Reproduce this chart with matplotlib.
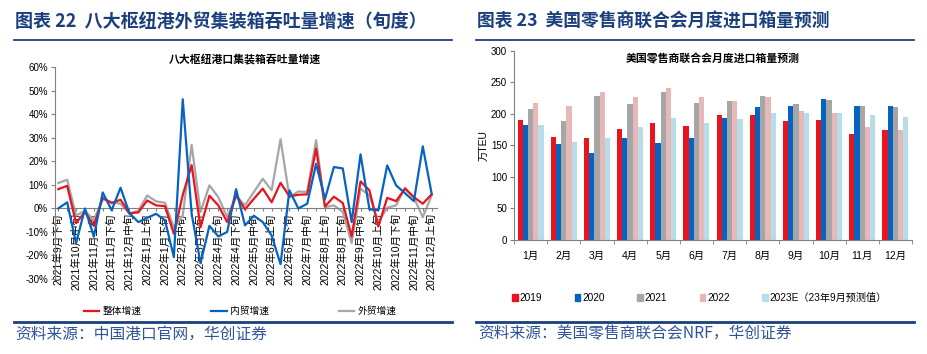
import matplotlib
matplotlib.use('Agg')
import matplotlib.pyplot as plt
from matplotlib.lines import Line2D
from matplotlib.patches import Patch
import numpy as np

plt.rcParams['font.family'] = ['Liberation Sans', 'Noto Sans CJK SC', 'DejaVu Sans']

# ---- left chart: dekad growth of the eight hub ports (%)
periods = ['2021年9月下旬', '2021年10月上旬', '2021年10月中旬', '2021年10月下旬',
           '2021年11月上旬', '2021年11月中旬', '2021年11月下旬', '2021年12月上旬',
           '2021年12月中旬', '2021年12月下旬', '2022年1月上旬', '2022年1月中旬',
           '2022年1月下旬', '2022年2月上旬', '2022年2月中旬', '2022年3月上旬',
           '2022年3月中旬', '2022年3月下旬', '2022年4月上旬', '2022年4月中旬',
           '2022年4月下旬', '2022年5月上旬', '2022年5月中旬', '2022年5月下旬',
           '2022年6月上旬', '2022年6月中旬', '2022年6月下旬', '2022年7月上旬',
           '2022年7月中旬', '2022年7月下旬', '2022年8月上旬', '2022年8月中旬',
           '2022年8月下旬', '2022年9月上旬', '2022年9月中旬', '2022年9月下旬',
           '2022年10月上旬', '2022年10月中旬', '2022年10月下旬', '2022年11月上旬',
           '2022年11月中旬', '2022年11月下旬', '2022年12月上旬']
total_growth = [8.2, 9.6, -6.2, -1.5, -7.4, 4.5, 2.3, 3.7, -2.0, -1.7, 3.4, 1.3, 1.0,
                -10.8, 5.7, 18.4, -8.0, 5.4, 1.3, -5.8, 5.5, -0.4, 4.1, 8.4, 2.6, 10.9,
                5.1, 5.8, 6.0, 25.4, 0.8, 5.0, 2.3, -11.9, 11.5, 7.7, -7.7, 4.5, 3.1,
                8.4, 4.8, 2.0, 6.0]
domestic_growth = [0.0, 2.6, -14.8, 0.0, -12.0, 6.8, -0.8, 8.8, -2.0, -5.8, -4.0, -2.3,
                   -5.0, -20.7, 46.4, -2.3, -23.3, -7.4, -11.9, -10.0, 8.2, -7.2, -3.1,
                   -5.8, -11.5, -23.7, 7.7, 0.0, 2.0, 19.0, 4.0, 17.6, 17.0, -5.8, 23.0,
                   -0.4, -0.8, 18.3, 9.8, 6.5, 3.1, 26.4, 6.2]
foreign_growth = [10.8, 12.2, -3.0, -1.0, -5.0, 4.0, 2.7, 2.0, -2.3, -1.0, 5.5, 3.0, 2.4,
                  -8.0, -3.0, 27.0, -1.5, 9.8, 4.8, -3.7, 5.5, 1.3, 7.0, 12.6, 7.7, 29.4,
                  4.8, 7.2, 7.0, 29.0, 0.5, 1.3, -1.5, -14.7, 8.4, 5.5, -5.8, 0.3, 1.3,
                  8.8, 4.5, -3.7, 5.5]

# ---- right chart: NRF monthly import volume (10k TEU)
months = ['1月', '2月', '3月', '4月', '5月', '6月', '7月', '8月', '9月', '10月', '11月', '12月']
year_labels = ['2019', '2020', '2021', '2022', '2023E（23年9月预测值）']
teu_2019 = [190, 163, 162, 176, 186, 181, 198, 198, 189, 190, 168, 174]
teu_2020 = [183, 152, 138, 162, 154, 162, 193, 211, 212, 223, 212, 212]
teu_2021 = [207, 188, 228, 216, 234, 217, 220, 228, 216, 222, 212, 210]
teu_2022 = [217, 212, 235, 227, 241, 226, 220, 227, 204, 201, 179, 175]
teu_2023e = [182, 156, 162, 179, 193, 185, 192, 201, 201, 201, 198, 195]

NAVY = '#1B3F7D'
SRC = '#2F5597'
AXC = '#808080'
RED = '#E8141E'
BLUE = '#0563C1'
GRAY = '#A6A6A6'

W, H = 927, 354
fig = plt.figure(figsize=(W / 100, H / 100), dpi=100)


def fx(px):
    return px / W


def fy(py):
    return 1 - py / H


# headers, rules and sources
fig.text(fx(15), fy(22), '图表 22  八大枢纽港外贸集装箱吞吐量增速（旬度）', fontsize=13,
         fontweight='bold', color=NAVY, va='center', family=['Noto Sans CJK SC'])
fig.text(fx(477), fy(22), '图表 23  美国零售商联合会月度进口箱量预测', fontsize=12.8,
         fontweight='bold', color=NAVY, va='center', family=['Noto Sans CJK SC'])
for x0, x1 in [(14, 452), (476, 914)]:
    fig.add_artist(Line2D([fx(x0), fx(x1)], [fy(40), fy(40)], color=NAVY, lw=1.3))
    fig.add_artist(Line2D([fx(x0), fx(x1)], [fy(322), fy(322)], color=NAVY, lw=2.0))
fig.text(fx(15), fy(334), '资料来源：中国港口官网，华创证券', fontsize=11.3, color=SRC,
         va='center', family=['Noto Sans CJK SC'])
fig.text(fx(478), fy(334), '资料来源：美国零售商联合会NRF，华创证券', fontsize=11.3, color=SRC,
         va='center', family=['Noto Sans CJK SC'])

# ---- left line chart
ax = fig.add_axes([fx(55), fy(279), fx(437 - 55), (279 - 67.3) / H])
x = np.arange(len(periods))
ax.plot(x, foreign_growth, color=GRAY, lw=1.6, zorder=2)
ax.plot(x, total_growth, color=RED, lw=1.6, zorder=3)
ax.plot(x, domestic_growth, color=BLUE, lw=1.6, zorder=4)
ax.spines['bottom'].set_position(('data', 0))
ax.set_xlim(-0.37, 42.6)
ax.set_ylim(-30, 60)
ax.set_yticks(range(-30, 61, 10))
ax.set_yticklabels([f'{v}%' for v in range(-30, 61, 10)])
ax.set_xticks(x)
ax.set_xticklabels([p if i % 2 == 0 else '' for i, p in enumerate(periods)])
for s in ['top', 'right']:
    ax.spines[s].set_visible(False)
for s in ['left', 'bottom']:
    ax.spines[s].set_color(AXC)
ax.tick_params(axis='y', labelsize=7, length=3, color=AXC, pad=2)
ax.tick_params(axis='x', labelsize=7.6, length=2.5, color=AXC, pad=1, labelrotation=90)
fig.text(fx(245), fy(59), '八大枢纽港口集装箱吞吐量增速', fontsize=7.8, fontweight='bold',
         ha='center', va='center')

line_handles = [Line2D([], [], color=RED, lw=1.6), Line2D([], [], color=BLUE, lw=1.6),
                Line2D([], [], color=GRAY, lw=1.6)]
fig.legend(line_handles, ['整体增速', '内贸增速', '外贸增速'], ncol=3, frameon=False,
           loc='center', bbox_to_anchor=(fx(240), fy(311)), fontsize=7,
           handlelength=1.6, handletextpad=0.3, columnspacing=7.2)

# ---- right bar chart
bx = fig.add_axes([fx(514), fy(240), fx(912 - 514), (240 - 50.7) / H])
series = [teu_2019, teu_2020, teu_2021, teu_2022, teu_2023e]
colors = [RED, BLUE, GRAY, '#E6B9B8', '#B7DEE8']
m = np.arange(len(months))
bw = 0.156
for k, (vals, c) in enumerate(zip(series, colors)):
    bx.bar(m + (k - 2) * bw, vals, width=bw, color=c, linewidth=0)
bx.set_xlim(-0.5, 11.5)
bx.set_ylim(0, 300)
bx.set_yticks(range(0, 301, 50))
bx.set_xticks(m)
bx.set_xticklabels(months)
bx.set_xticks(np.arange(-0.5, 12, 1), minor=True)
bx.tick_params(axis='x', which='major', length=0, labelsize=7.5, pad=8)
bx.tick_params(axis='x', which='minor', length=3, color=AXC)
bx.tick_params(axis='y', labelsize=7, length=3, color=AXC, pad=2)
for s in ['top', 'right']:
    bx.spines[s].set_visible(False)
for s in ['left', 'bottom']:
    bx.spines[s].set_color(AXC)
bx.set_ylabel('万TEU', fontsize=7.5, labelpad=2)
fig.text(fx(713), fy(59), '美国零售商联合会月度进口箱量预测', fontsize=7.8, fontweight='bold',
         ha='center', va='center')

bar_handles = [Patch(color=c) for c in colors]
fig.legend(bar_handles, year_labels, ncol=5, frameon=False, loc='center left',
           bbox_to_anchor=(fx(503), fy(298)), fontsize=7.3, handlelength=0.55,
           handleheight=0.55, handletextpad=0.2, columnspacing=3.2)

fig.savefig('out.png', dpi=100)
